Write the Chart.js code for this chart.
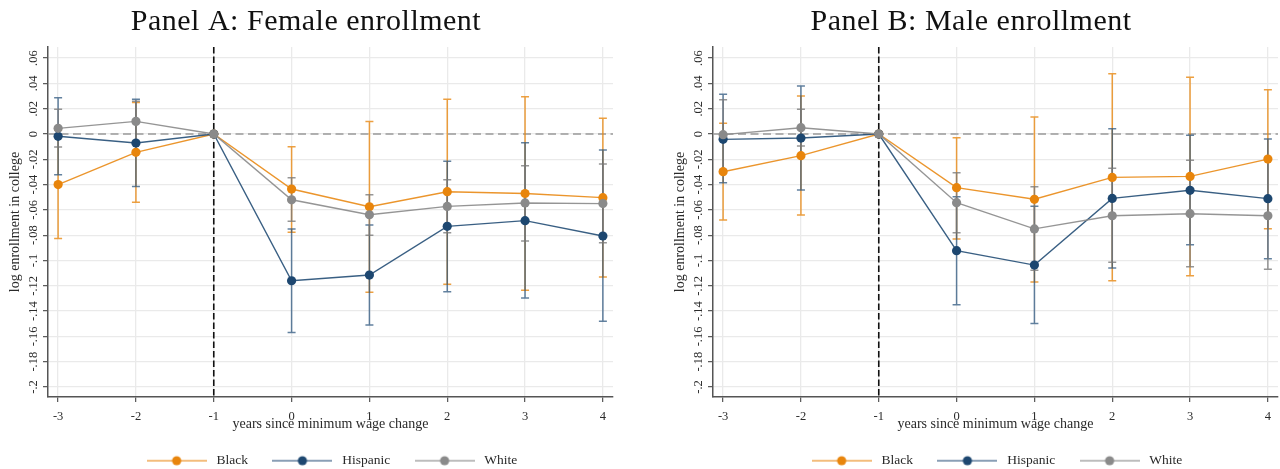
<!DOCTYPE html>
<html>
<head>
<meta charset="utf-8">
<title>Enrollment event study</title>
<script src="https://cdn.jsdelivr.net/npm/chart.js@4.4.1/dist/chart.umd.min.js"></script>
<style>
  html, body { margin: 0; padding: 0; background: #ffffff; overflow: hidden; width: 1280px; height: 469px; }
  .panel { position: absolute; top: 0; width: 661px; height: 469px; }
</style>
</head>
<body>
<div class="panel" style="left:0px"><canvas id="female" width="661" height="469"></canvas></div>
<div class="panel" style="left:665px"><canvas id="male" width="661" height="469"></canvas></div>
<script>
// Event time and axis ticks
const years = [-3, -2, -1, 0, 1, 2, 3, 4];
const xTickLabels = ['-3', '-2', '-1', '0', '1', '2', '3', '4'];
const yTickValues = [0.06, 0.04, 0.02, 0, -0.02, -0.04, -0.06, -0.08, -0.1, -0.12, -0.14, -0.16, -0.18, -0.2];
const yTickLabels = ['.06', '.04', '.02', '0', '-.02', '-.04', '-.06', '-.08', '-.1', '-.12', '-.14', '-.16', '-.18', '-.2'];
const groupNames = ['Black', 'Hispanic', 'White'];

// Panel A: female enrollment (point estimates and 95% CI bounds)
const femaleBlack    = [-0.0400, -0.0145, 0, -0.0435, -0.0575, -0.0456, -0.0470, -0.0503];
const femaleBlackLo  = [-0.0825, -0.0540, 0, -0.0777, -0.1250, -0.1188, -0.1236, -0.1130];
const femaleBlackHi  = [ 0.0030,  0.0250, 0, -0.0100,  0.0100,  0.0274,  0.0295,  0.0124];
const femaleHisp     = [-0.0018, -0.0071, 0, -0.1160, -0.1115, -0.0730, -0.0685, -0.0806];
const femaleHispLo   = [-0.0322, -0.0414, 0, -0.1570, -0.1510, -0.1247, -0.1296, -0.1480];
const femaleHispHi   = [ 0.0287,  0.0274, 0, -0.0750, -0.0720, -0.0216, -0.0069, -0.0126];
const femaleWhite    = [ 0.0045,  0.0100, 0, -0.0520, -0.0638, -0.0572, -0.0545, -0.0550];
const femaleWhiteLo  = [-0.0103, -0.0060, 0, -0.0690, -0.0800, -0.0780, -0.0846, -0.0860];
const femaleWhiteHi  = [ 0.0195,  0.0260, 0, -0.0345, -0.0480, -0.0361, -0.0250, -0.0237];

// Panel B: male enrollment
const maleBlack      = [-0.0298, -0.0171, 0, -0.0424, -0.0516, -0.0343, -0.0335, -0.0198];
const maleBlackLo    = [-0.0680, -0.0640, 0, -0.0830, -0.1170, -0.1160, -0.1120, -0.0748];
const maleBlackHi    = [ 0.0085,  0.0300, 0, -0.0030,  0.0134,  0.0477,  0.0448,  0.0350];
const maleHisp       = [-0.0042, -0.0032, 0, -0.0922, -0.1036, -0.0509, -0.0445, -0.0511];
const maleHispLo     = [-0.0385, -0.0443, 0, -0.1350, -0.1497, -0.1060, -0.0875, -0.0986];
const maleHispHi     = [ 0.0314,  0.0380, 0, -0.0495, -0.0570,  0.0042, -0.0010, -0.0040];
const maleWhite      = [-0.0005,  0.0050, 0, -0.0543, -0.0750, -0.0646, -0.0630, -0.0646];
const maleWhiteLo    = [-0.0280, -0.0095, 0, -0.0780, -0.1077, -0.1014, -0.1050, -0.1070];
const maleWhiteHi    = [ 0.0270,  0.0195, 0, -0.0306, -0.0417, -0.0271, -0.0208, -0.0205];

// Styling
const SERIF = "'Liberation Serif', 'Times New Roman', serif";
const markerColors = ['#E8850C', '#1D4770', '#8A8A8A'];
const lineColors   = ['rgba(233,138,21,0.9)', 'rgba(36,78,118,0.9)', 'rgba(138,138,138,0.9)'];
const barColors    = ['rgba(232,133,12,0.78)', 'rgba(38,80,122,0.72)', 'rgba(120,120,120,0.78)'];
const legendLines  = ['rgba(236,150,50,0.85)', 'rgba(70,105,140,0.85)', 'rgba(150,150,150,0.85)'];
const TEXT = '#2a2a2a';
const AXIS = '#555555';
const GRID = '#EAEAEA';

function legendSwatch(i) {
  const c = document.createElement('canvas');
  c.width = 60; c.height = 12;
  const g = c.getContext('2d');
  g.strokeStyle = legendLines[i];
  g.lineWidth = 1.6;
  g.beginPath(); g.moveTo(0, 6); g.lineTo(60, 6); g.stroke();
  g.fillStyle = markerColors[i];
  g.beginPath(); g.arc(30, 6, 4.6, 0, Math.PI * 2); g.fill();
  return c;
}
const swatches = [0, 1, 2].map(legendSwatch);

// Confidence-interval caps, reference lines, rotated y tick labels and panel title
const panelDecor = {
  id: 'panelDecor',
  beforeDatasetsDraw(chart) {
    const {ctx, chartArea: a, scales: {x, y}} = chart;
    ctx.save();
    // horizontal reference at zero
    ctx.strokeStyle = '#9A9A9A';
    ctx.lineWidth = 1.5;
    ctx.setLineDash([8, 4.5]);
    const y0 = y.getPixelForValue(0);
    ctx.beginPath(); ctx.moveTo(a.left, y0); ctx.lineTo(a.right, y0); ctx.stroke();
    // vertical reference at the year before the change
    ctx.strokeStyle = '#111111';
    ctx.lineWidth = 1.6;
    ctx.setLineDash([6.5, 3]);
    const xr = x.getPixelForValue(-1);
    ctx.beginPath(); ctx.moveTo(xr, a.top); ctx.lineTo(xr, a.bottom); ctx.stroke();
    ctx.setLineDash([]);
    // capped spikes
    chart.data.datasets.forEach((ds, i) => {
      ctx.strokeStyle = barColors[i];
      ctx.lineWidth = 1.5;
      ds.data.forEach((pt, k) => {
        const lo = ds.errLow[k], hi = ds.errHigh[k];
        if (lo === hi) return;
        const px = x.getPixelForValue(pt.x);
        const pl = y.getPixelForValue(lo), ph = y.getPixelForValue(hi);
        ctx.beginPath();
        ctx.moveTo(px, pl); ctx.lineTo(px, ph);
        ctx.moveTo(px - 4, pl); ctx.lineTo(px + 4, pl);
        ctx.moveTo(px - 4, ph); ctx.lineTo(px + 4, ph);
        ctx.stroke();
      });
    });
    ctx.restore();
  },
  afterDraw(chart, args, opts) {
    const {ctx, chartArea: a, scales: {y}} = chart;
    ctx.save();
    ctx.fillStyle = TEXT;
    ctx.font = '12.5px ' + SERIF;
    ctx.textAlign = 'center';
    ctx.textBaseline = 'alphabetic';
    y.ticks.forEach((t, i) => {
      const py = y.getPixelForValue(t.value);
      ctx.save();
      ctx.translate(a.left - 11.5, py);
      ctx.rotate(-Math.PI / 2);
      ctx.fillText(yTickLabels[i], 0, 0);
      ctx.restore();
    });
    ctx.fillStyle = '#111111';
    ctx.font = '30px ' + SERIF;
    if ('letterSpacing' in ctx) ctx.letterSpacing = '0.5px';
    ctx.textAlign = 'center';
    ctx.fillText(opts.text, (a.left + a.right) / 2 - 24.5, 29.5);
    ctx.restore();
  }
};

function makePanel(id, title, est, lo, hi) {
  const datasets = groupNames.map((name, i) => ({
    label: name,
    data: years.map((yr, k) => ({x: yr, y: est[i][k]})),
    errLow: lo[i],
    errHigh: hi[i],
    borderColor: lineColors[i],
    backgroundColor: markerColors[i],
    pointBackgroundColor: markerColors[i],
    pointBorderColor: markerColors[i],
    pointBorderWidth: 0,
    pointRadius: 4.6,
    borderWidth: 1.4,
    tension: 0,
    order: 3 - i
  }));
  return new Chart(document.getElementById(id), {
    type: 'line',
    data: {datasets},
    plugins: [panelDecor],
    options: {
      responsive: false,
      animation: false,
      devicePixelRatio: 1,
      layout: {padding: {top: 47, left: 0, right: 0, bottom: -8.5}},
      scales: {
        x: {
          type: 'linear',
          position: 'bottom',
          min: -3.13,
          max: 4.13,
          afterBuildTicks: s => { s.ticks = years.map(v => ({value: v})); },
          afterFit: s => { s.height = 35.5; },
          ticks: {
            callback: (v, i) => xTickLabels[i],
            font: {family: SERIF, size: 12.5},
            color: TEXT,
            padding: 7,
            maxRotation: 0
          },
          grid: {color: GRID, lineWidth: 1.3, tickColor: AXIS, tickLength: 5, tickWidth: 1.2},
          border: {color: AXIS, width: 1.5},
          title: {
            display: true,
            text: 'years since minimum wage change',
            font: {family: SERIF, size: 14},
            color: TEXT,
            padding: {top: 0, bottom: 0}
          }
        },
        y: {
          type: 'linear',
          position: 'left',
          min: -0.2079,
          max: 0.0688,
          afterBuildTicks: s => { s.ticks = yTickValues.map(v => ({value: v})); },
          afterFit: s => { s.width = 48; },
          ticks: {display: false},
          grid: {color: GRID, lineWidth: 1.3, tickColor: AXIS, tickLength: 5, tickWidth: 1.2},
          border: {color: AXIS, width: 1.5},
          title: {
            display: true,
            text: 'log enrollment in college',
            font: {family: SERIF, size: 14},
            color: TEXT,
            padding: {top: 6.6, bottom: 0}
          }
        },
        yRight: {
          type: 'linear',
          position: 'right',
          display: true,
          afterFit: s => { s.width = 48; },
          ticks: {display: false},
          grid: {display: false, drawTicks: false},
          border: {display: false}
        }
      },
      plugins: {
        panelDecor: {text: title},
        tooltip: {enabled: false},
        title: {display: false},
        legend: {
          display: true,
          position: 'bottom',
          labels: {
            usePointStyle: true,
            pointStyleWidth: 66,
            padding: 21.5,
            color: TEXT,
            font: {family: SERIF, size: 13.5},
            generateLabels: () => groupNames.map((name, i) => ({
              text: name,
              pointStyle: swatches[i],
              fillStyle: markerColors[i],
              strokeStyle: markerColors[i],
              lineWidth: 0,
              fontColor: TEXT,
              hidden: false,
              datasetIndex: i
            }))
          }
        }
      }
    }
  });
}

makePanel('female', 'Panel A: Female enrollment',
  [femaleBlack, femaleHisp, femaleWhite],
  [femaleBlackLo, femaleHispLo, femaleWhiteLo],
  [femaleBlackHi, femaleHispHi, femaleWhiteHi]);

makePanel('male', 'Panel B: Male enrollment',
  [maleBlack, maleHisp, maleWhite],
  [maleBlackLo, maleHispLo, maleWhiteLo],
  [maleBlackHi, maleHispHi, maleWhiteHi]);
</script>
</body>
</html>
